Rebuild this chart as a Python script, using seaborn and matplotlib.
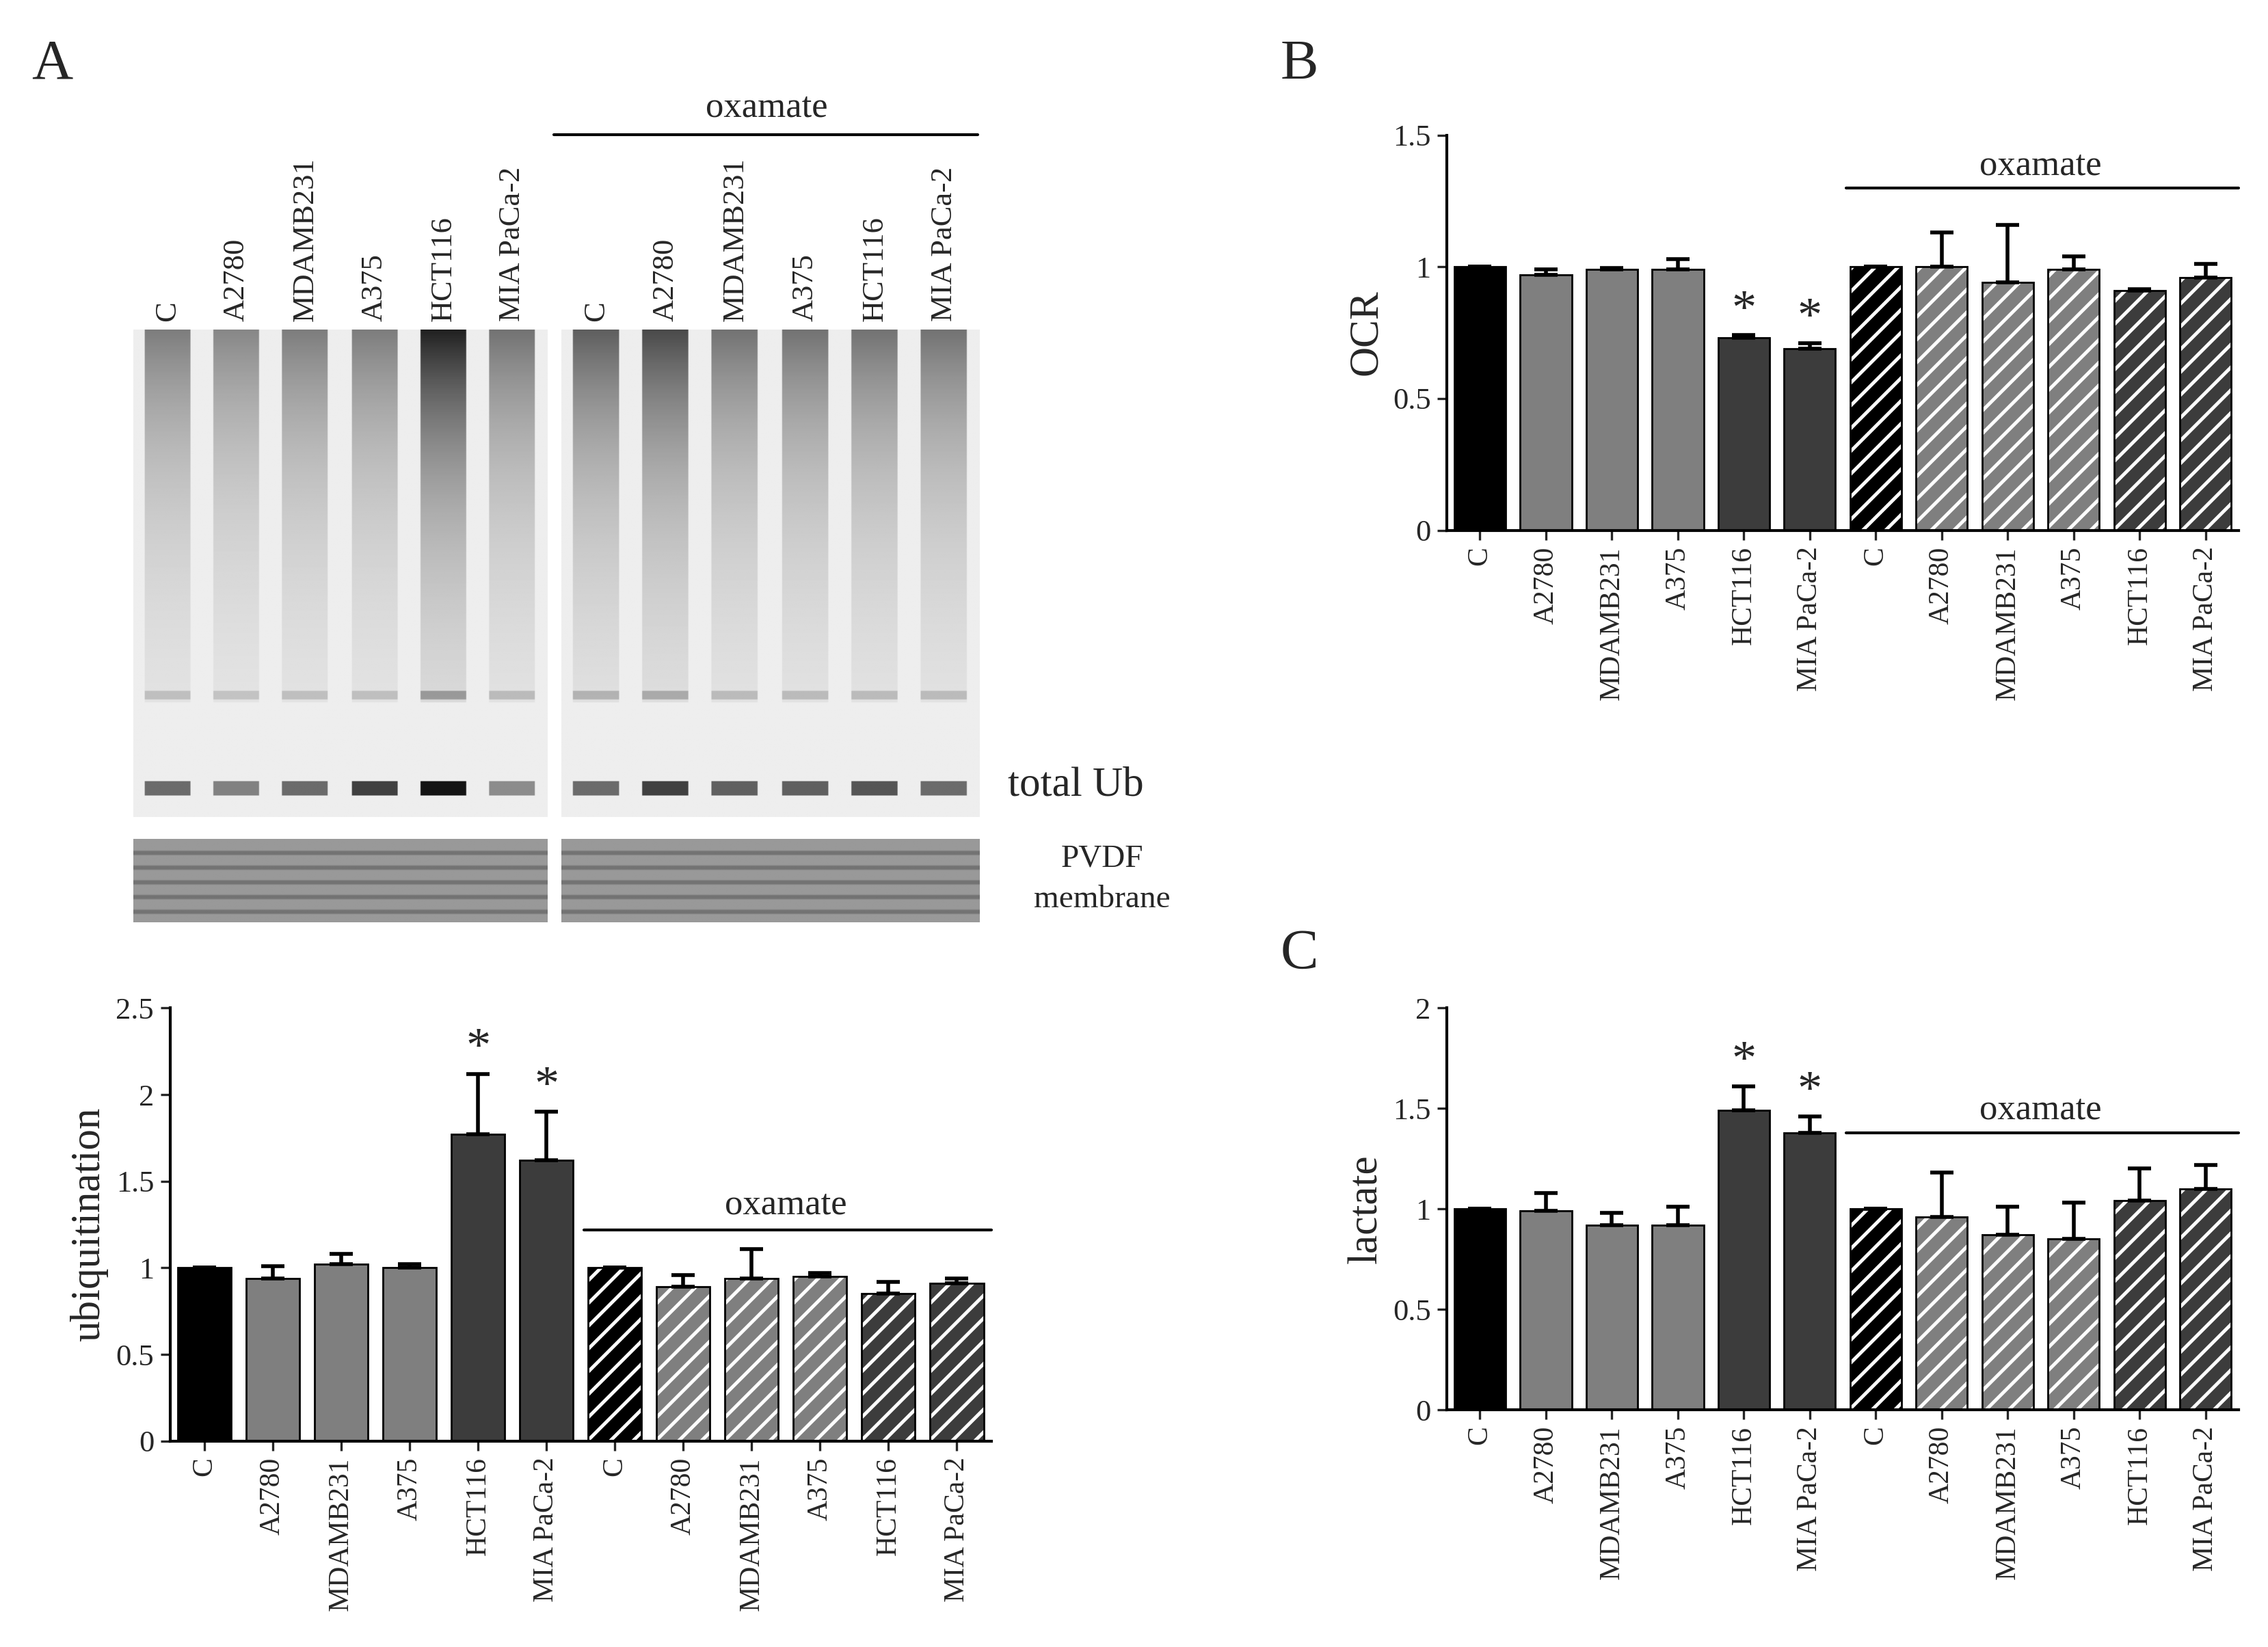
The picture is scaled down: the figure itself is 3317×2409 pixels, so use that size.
import matplotlib
matplotlib.use("Agg")
import matplotlib.pyplot as plt
from matplotlib.patches import Rectangle
import numpy as np
import seaborn as sns

sns.set_theme(style="ticks")
plt.rcParams["font.family"] = ["Liberation Serif", "DejaVu Serif"]
plt.rcParams["hatch.linewidth"] = 1.8

labels = ["C", "A2780", "MDAMB231", "A375", "HCT116", "MIA PaCa-2"] * 2
ubi = [1.0, 0.94, 1.02, 1.0, 1.77, 1.62, 1.0, 0.89, 0.94, 0.95, 0.85, 0.91]
ubi_err = [0, 0.07, 0.06, 0.02, 0.35, 0.28, 0, 0.07, 0.17, 0.02, 0.07, 0.03]
ocr = [1.0, 0.97, 0.99, 0.99, 0.73, 0.69, 1.0, 1.0, 0.94, 0.99, 0.91, 0.96]
ocr_err = [0, 0.02, 0.005, 0.04, 0.01, 0.02, 0, 0.13, 0.22, 0.05, 0.005, 0.05]
lac = [1.0, 0.99, 0.92, 0.92, 1.49, 1.38, 1.0, 0.96, 0.87, 0.85, 1.04, 1.10]
lac_err = [0, 0.09, 0.06, 0.09, 0.12, 0.08, 0, 0.22, 0.14, 0.18, 0.16, 0.12]
stars = [4, 5]
colors = ["#000000"] + ["#7f7f7f"] * 3 + ["#3c3c3c"] * 2
colors = colors * 2

fig = plt.figure(figsize=(16.585, 12.045), dpi=200)


def bar_panel(rect, vals, errs, ylabel, ymax, yticks, ytl, line_y, text_y):
    ax = fig.add_axes(rect)
    pos = [str(i) for i in range(12)]
    sns.barplot(x=pos, y=vals, order=pos, hue=pos, palette=colors, legend=False,
                ax=ax, width=0.78, edgecolor="black", linewidth=1.0, errorbar=None)
    for i, p in enumerate(list(ax.patches)):
        if i >= 6:
            p.set_hatch("//")
            p.set_edgecolor("white")
            p.set_linewidth(0)
            ax.add_patch(Rectangle(p.get_xy(), p.get_width(), p.get_height(),
                                   fill=False, edgecolor="black", linewidth=1.0))
    ax.errorbar(range(12), vals, yerr=[[0] * 12, errs], fmt="none", ecolor="black",
                elinewidth=2, capsize=6, capthick=2)
    for i in stars:
        ax.text(i, vals[i] + errs[i] + 0.005 * ymax, "*", ha="center", va="bottom",
                fontsize=26)
    ax.plot([5.55, 11.5], [line_y, line_y], color="black", lw=1.5, clip_on=False)
    ax.text(8.5, text_y, "oxamate", ha="center", va="bottom", fontsize=19)
    ax.set_xlim(-0.5, 11.5)
    ax.set_ylim(0, ymax)
    ax.set_yticks(yticks)
    ax.set_yticklabels(ytl, fontsize=16)
    ax.set_xticks(range(12))
    ax.set_xticklabels(labels, rotation=90, fontsize=15)
    ax.set_ylabel(ylabel, fontsize=22)
    ax.tick_params(direction="out", length=5, width=1.2)
    sns.despine(ax=ax)
    for s in ["left", "bottom"]:
        ax.spines[s].set_linewidth(1.5)
        ax.spines[s].set_color("black")
    return ax


bar_panel([0.075, 0.125, 0.362, 0.263], ubi, ubi_err, "ubiquitination", 2.5,
          [0, 0.5, 1, 1.5, 2, 2.5], ["0", "0.5", "1", "1.5", "2", "2.5"], 1.22, 1.27)
bar_panel([0.638, 0.678, 0.349, 0.240], ocr, ocr_err, "OCR", 1.5,
          [0, 0.5, 1, 1.5], ["0", "0.5", "1", "1.5"], 1.3, 1.32)
bar_panel([0.638, 0.144, 0.349, 0.244], lac, lac_err, "lactate", 2.0,
          [0, 0.5, 1, 1.5, 2], ["0", "0.5", "1", "1.5", "2"], 1.38, 1.41)

# blot images (illustrative only)
lane_int = [[0.55, 0.5, 0.55, 0.55, 1.0, 0.6], [0.7, 0.8, 0.6, 0.6, 0.6, 0.6]]
band_int = [[0.6, 0.5, 0.6, 0.8, 1.0, 0.45], [0.6, 0.8, 0.65, 0.65, 0.7, 0.6]]
for k, (x0, x1) in enumerate([(92, 378), (388, 677)]):
    H, W = 340, 290
    img = np.full((H, W), 0.93)
    yy = np.arange(H)[:, None]
    for j in range(6):
        c = int((j + 0.5) * W / 6)
        xs = slice(c - 16, c + 16)
        smear = lane_int[k][j] * np.exp(-yy / 110.0) * 0.8
        smear[260:] = 0
        img[:, xs] -= smear
        img[252:258, xs] -= 0.25 * lane_int[k][j]
        img[315:325, xs] -= 0.85 * band_int[k][j]
    axb = fig.add_axes([x0 / 1568, 1 - 565 / 1139, (x1 - x0) / 1568, 337 / 1139])
    axb.imshow(np.clip(img, 0, 1), cmap="gray", vmin=0, vmax=1, aspect="auto")
    axb.axis("off")
    strip = np.full((40, W), 0.6)
    for r in range(6, 40, 7):
        strip[r:r + 2, :] = 0.45
    axs = fig.add_axes([x0 / 1568, 1 - 638 / 1139, (x1 - x0) / 1568, 58 / 1139])
    axs.imshow(strip, cmap="gray", vmin=0, vmax=1, aspect="auto")
    axs.axis("off")
    for j, lab in enumerate(labels[:6]):
        xc = (x0 + (j + 0.5) * (x1 - x0) / 6) / 1568
        fig.text(xc, 1 - 222 / 1139, lab, rotation=90, ha="center", va="bottom", fontsize=16)

fig.add_artist(plt.Line2D([383 / 1568, 676 / 1568], [1 - 93 / 1139] * 2, color="black", lw=1.5))
fig.text(530 / 1568, 1 - 86 / 1139, "oxamate", ha="center", va="bottom", fontsize=19)
fig.text(697 / 1568, 1 - 543 / 1139, "total Ub", ha="left", va="center", fontsize=22)
fig.text(762 / 1568, 1 - 608 / 1139, "PVDF\nmembrane", ha="center", va="center", fontsize=17,
         linespacing=1.5)

fig.text(22 / 1568, 1 - 45 / 1139, "A", fontsize=30, va="center")
fig.text(885 / 1568, 1 - 45 / 1139, "B", fontsize=30, va="center")
fig.text(885 / 1568, 1 - 660 / 1139, "C", fontsize=30, va="center")

fig.savefig("out.png", dpi=200, facecolor="white")
